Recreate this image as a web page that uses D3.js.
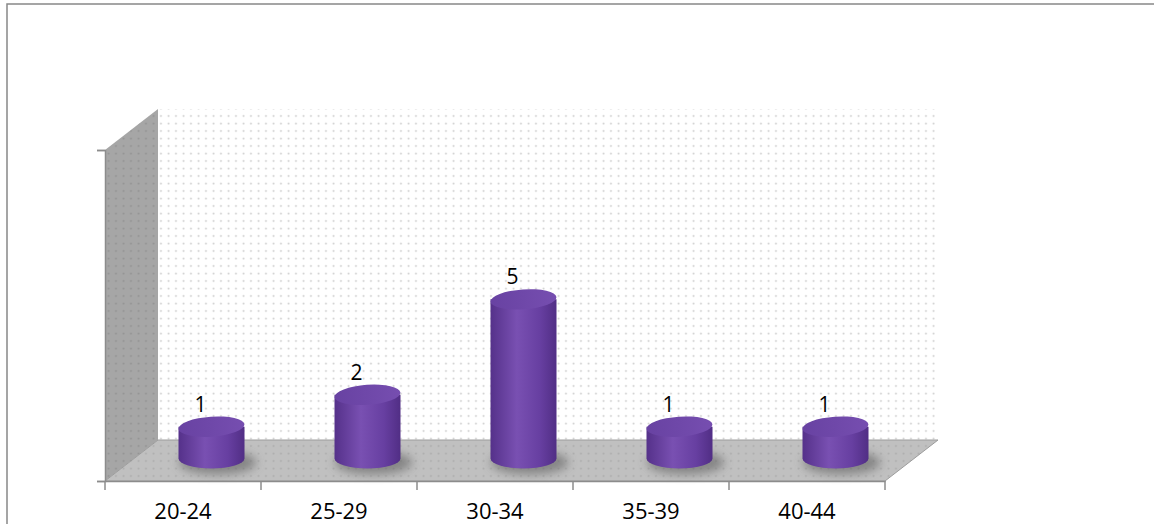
<!DOCTYPE html>
<html>
<head>
<meta charset="utf-8">
<script src="https://cdn.jsdelivr.net/npm/d3@7"></script>
<style>
  body { margin: 0; background: #fff; }
  svg { display: block; }
</style>
</head>
<body>
<div class="chart"></div>
<script>
// data
var categories = ["20-24", "25-29", "30-34", "35-39", "40-44"];
var counts = [1, 2, 5, 1, 1];
var yDomain = [0, 10.4];

var W = 1154, H = 524;

// front plane of the 3d box
var front = {left: 105, right: 885, bottom: 481, top: 150};
// depth offset (front -> back)
var depth = {dx: 53, dy: -41};

var svg = d3.select(".chart").append("svg")
    .attr("width", W)
    .attr("height", H);

var defs = svg.append("defs");

// dotted fills
function dots(id, bg, dot) {
  var p = defs.append("pattern")
      .attr("id", id)
      .attr("patternUnits", "userSpaceOnUse")
      .attr("width", 7.5).attr("height", 7.5);
  p.append("rect").attr("width", 7.5).attr("height", 7.5).attr("fill", bg);
  p.append("circle").attr("cx", 3.5).attr("cy", 3.5).attr("r", 1).attr("fill", dot);
}
dots("wallDots", "#ffffff", "#cdcdcd");
dots("sideDots", "#a6a6a6", "#929292");
dots("floorDots", "#c0c0c0", "#acacac");

// cylinder gradients
var body = defs.append("linearGradient").attr("id", "cylBody")
    .attr("x1", "0%").attr("x2", "100%");
body.append("stop").attr("offset", "0%").attr("stop-color", "#55318a");
body.append("stop").attr("offset", "40%").attr("stop-color", "#7950b2");
body.append("stop").attr("offset", "75%").attr("stop-color", "#673fa1");
body.append("stop").attr("offset", "100%").attr("stop-color", "#512e85");

var cap = defs.append("linearGradient").attr("id", "cylTop")
    .attr("x1", "0%").attr("x2", "100%");
cap.append("stop").attr("offset", "0%").attr("stop-color", "#6842a2");
cap.append("stop").attr("offset", "100%").attr("stop-color", "#764eb0");

defs.append("filter").attr("id", "blur")
    .attr("x", "-50%").attr("y", "-50%").attr("width", "200%").attr("height", "200%")
  .append("feGaussianBlur").attr("stdDeviation", 5);

// outer border
svg.append("path")
    .attr("d", "M7," + H + "V4H" + W)
    .attr("fill", "none")
    .attr("stroke", "#888")
    .attr("stroke-width", 1.5);

// back wall
svg.append("rect")
    .attr("x", front.left + depth.dx)
    .attr("y", front.top + depth.dy)
    .attr("width", front.right - front.left)
    .attr("height", front.bottom - front.top)
    .attr("fill", "url(#wallDots)");

// side wall
svg.append("polygon")
    .attr("points", [
      [front.left, front.top],
      [front.left + depth.dx, front.top + depth.dy],
      [front.left + depth.dx, front.bottom + depth.dy],
      [front.left, front.bottom]
    ].join(" "))
    .attr("fill", "url(#sideDots)");

// floor
svg.append("polygon")
    .attr("points", [
      [front.left + depth.dx, front.bottom + depth.dy],
      [front.right + depth.dx, front.bottom + depth.dy],
      [front.right, front.bottom],
      [front.left, front.bottom]
    ].join(" "))
    .attr("fill", "url(#floorDots)")
    .attr("stroke", "#9c9c9c")
    .attr("stroke-width", 1);

// scales
var x = d3.scaleBand()
    .domain(categories)
    .range([front.left, front.right]);

var h = d3.scaleLinear()
    .domain(yDomain)
    .range([0, front.bottom - front.top]);

var yAxisScale = d3.scaleLinear()
    .domain(yDomain)
    .range([front.bottom, front.top]);

// bars sit halfway into the depth
var rx = 33, ry = 10;
function cx(d, i) { return x(categories[i]) + x.bandwidth() / 2 + depth.dx / 2 + 2; }
var baseY = front.bottom + depth.dy / 2 - 2;

var bars = svg.append("g").selectAll("g")
    .data(counts)
  .enter().append("g");

// shadow
bars.append("ellipse")
    .attr("cx", function(d, i) { return cx(d, i) + 6; })
    .attr("cy", baseY + 4)
    .attr("rx", rx + 6)
    .attr("ry", ry + 2)
    .attr("fill", "#555")
    .attr("opacity", 0.55)
    .attr("filter", "url(#blur)");

// body
bars.append("path")
    .attr("d", function(d, i) {
      var c = cx(d, i), top = baseY - h(d);
      return "M" + (c - rx) + "," + top +
        "V" + baseY +
        "A" + rx + "," + ry + " 0 0 0 " + (c + rx) + "," + baseY +
        "V" + top + "Z";
    })
    .attr("fill", "url(#cylBody)");

// top cap
bars.append("ellipse")
    .attr("cx", function(d, i) { return cx(d, i); })
    .attr("cy", function(d) { return baseY - h(d); })
    .attr("rx", rx)
    .attr("ry", ry)
    .attr("transform", function(d, i) {
      return "rotate(-4," + cx(d, i) + "," + (baseY - h(d)) + ")";
    })
    .attr("fill", "url(#cylTop)");

// value labels
bars.append("text")
    .attr("x", function(d, i) { return cx(d, i) - 11; })
    .attr("y", function(d) { return baseY - h(d) - 15; })
    .attr("text-anchor", "middle")
    .style("font-family", "'Open Sans', sans-serif")
    .style("font-size", "21px")
    .attr("fill", "#000")
    .text(function(d) { return d; });

// y axis (front edge of the side wall)
var yAxis = svg.append("g")
    .attr("transform", "translate(" + front.left + ",0)")
    .call(d3.axisLeft(yAxisScale).tickValues(yDomain).tickFormat("").tickSizeOuter(0).tickSize(8));
yAxis.select(".domain").attr("stroke", "#8c8c8c").attr("stroke-width", 1.5);
yAxis.selectAll(".tick line").attr("stroke", "#8c8c8c").attr("stroke-width", 1.5);

// x axis
var xAxis = svg.append("g")
    .attr("transform", "translate(0," + front.bottom + ")")
    .call(d3.axisBottom(x).tickSize(0).tickSizeOuter(0));
xAxis.select(".domain").attr("stroke", "#8c8c8c").attr("stroke-width", 1.5);
xAxis.selectAll(".tick text")
    .attr("dy", 0)
    .attr("y", 38)
    .style("font-family", "'Open Sans', sans-serif")
    .style("font-size", "22px")
    .attr("fill", "#000");

// tick marks at category boundaries
xAxis.selectAll(".sep")
    .data(d3.range(categories.length + 1))
  .enter().append("line")
    .attr("class", "sep")
    .attr("x1", function(i) { return front.left + i * x.step(); })
    .attr("x2", function(i) { return front.left + i * x.step(); })
    .attr("y1", 0)
    .attr("y2", 9)
    .attr("stroke", "#8c8c8c")
    .attr("stroke-width", 1.5);
</script>
</body>
</html>
